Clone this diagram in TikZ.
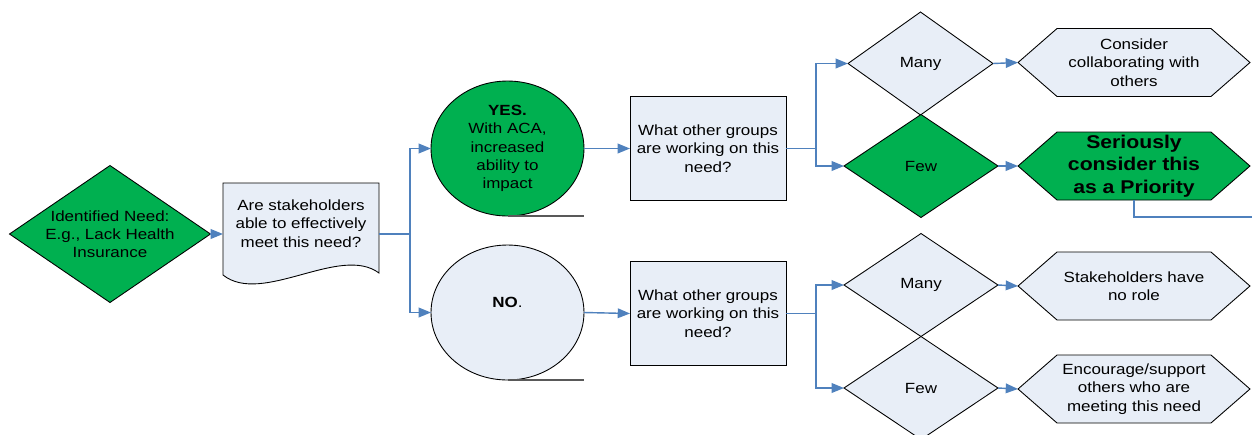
\documentclass[tikz,border=0pt]{standalone}
\usepackage{fontspec}
\setmainfont{Liberation Sans}[FakeStretch=1.15]
\usetikzlibrary{arrows.meta,shapes.geometric,backgrounds}
\definecolor{okgreen}{RGB}{0,176,80}
\definecolor{paleblue}{RGB}{232,238,247}
\definecolor{linkblue}{RGB}{79,129,189}
\tikzset{
  txt/.style={font=\fontsize{8.4}{10.4}\selectfont, align=center},
  shp/.style={draw=black, line width=0.5pt, inner sep=0pt, outer sep=0pt, fill=paleblue, txt},
  hot/.style={fill=okgreen},
  dia/.style={shp, diamond, minimum width=3.08cm, minimum height=2.06cm},
  hex/.style={shp, rectangle, draw=none, fill=none, minimum width=4.64cm, minimum height=1.36cm},
  box/.style={shp, rectangle, minimum width=3.12cm, minimum height=2.07cm},
  tape/.style={shp, ellipse, minimum width=3.06cm, minimum height=2.70cm},
  flow/.style={draw=linkblue, line width=0.8pt, -{Triangle[length=7pt,width=5.5pt]}},
  link/.style={draw=linkblue, line width=0.8pt},
  tail/.style={draw=black!65, line width=0.9pt}
}
\begin{document}
\begin{tikzpicture}[x=0.02cm, y=-0.02cm]
      \useasboundingbox (0,0) rectangle (1252,434);
      \node[dia, hot, minimum width=4.02cm, minimum height=2.74cm,
        label={[txt]center:{Identified Need:\\E.g., Lack Health\\Insurance}}] (need) at (110,234) {};
      \node[shp, rectangle, draw=none, fill=none, minimum width=3.12cm, minimum height=2.04cm,
        label={[txt, yshift=6pt]center:{Are stakeholders\\able to effectively\\meet this need?}}] (stake) at (301,234) {};
      \node[tape, hot] (yes) at (507.5,148.5) {\textbf{YES.}\\With ACA,\\increased\\ability to\\impact};
      \node[tape, label={[txt, yshift=5.5pt]center:{\textbf{NO}.}}] (no) at (507.5,312.5) {};
      \draw[tail] (yes.south) -- (yes.south -| yes.east);
      \draw[tail] (no.south) -- (no.south -| no.east);
      \node[box] (grp1) at (708,148.5) {What other groups\\are working on this\\need?};
      \node[box] (grp2) at (708,313.5) {What other groups\\are working on this\\need?};
      \node[dia, minimum width=2.9cm] (many1) at (920.5,63.5) {Many};
      \node[dia, hot] (few1) at (921,166) {Few};
      \node[dia] (many2) at (921,285) {Many};
      \node[dia] (few2) at (921,388) {Few};
      \node[hex] (collab) at (1134,62.5) {Consider\\collaborating with\\others};
      \node[hex, font=\bfseries\fontsize{10.5}{12.8}\selectfont] (prio) at (1134,166) {Seriously\\consider this\\as a Priority};
      \node[hex] (norole) at (1134,286) {Stakeholders have\\no role};
      \node[hex] (encour) at (1134,389) {Encourage/support\\others who are\\meeting this need};
      \begin{scope}[on background layer]
        \filldraw[draw=black, line width=0.5pt, fill=paleblue] (stake.north west) -- (stake.north east) -- (379,273)
          .. controls (340,244) and (262,306) .. (223,275) -- cycle;
        \foreach \n/\c in {collab/paleblue, prio/okgreen, norole/paleblue, encour/paleblue}
          \filldraw[draw=black, line width=0.5pt, fill=\c] (\n.west) -- ([xshift=0.78cm]\n.north west)
            -- ([xshift=-0.78cm]\n.north east) -- (\n.east) -- ([xshift=-0.78cm]\n.south east)
            -- ([xshift=0.78cm]\n.south west) -- cycle;
      \end{scope}
      \coordinate (s1) at (410,234);
      \coordinate (s2) at (816,148.5);
      \coordinate (s3) at (816,313.5);
      \coordinate (edge) at (1252,217);
      \draw[flow] (need.east) -- (stake.west);
      \draw[flow] (stake.east) -- (s1) |- (yes.west);
      \draw[flow] (stake.east) -- (s1) |- (no.west);
      \draw[flow] (yes.east) -- (grp1.west);
      \draw[flow] (no.east) -- (grp2.west);
      \draw[flow] (grp1.east) -- (s2) |- (many1.west);
      \draw[flow] (grp1.east) -- (s2) |- (few1.west);
      \draw[flow] (grp2.east) -- (s3) |- (many2.west);
      \draw[flow] (grp2.east) -- (s3) |- (few2.west);
      \draw[flow] (many1.east) -- (collab.west);
      \draw[flow] (few1.east) -- (prio.west);
      \draw[flow] (many2.east) -- (norole.west);
      \draw[flow] (few2.east) -- (encour.west);
      \draw[link] (prio.south) |- (edge);
    \end{tikzpicture}
\end{document}
